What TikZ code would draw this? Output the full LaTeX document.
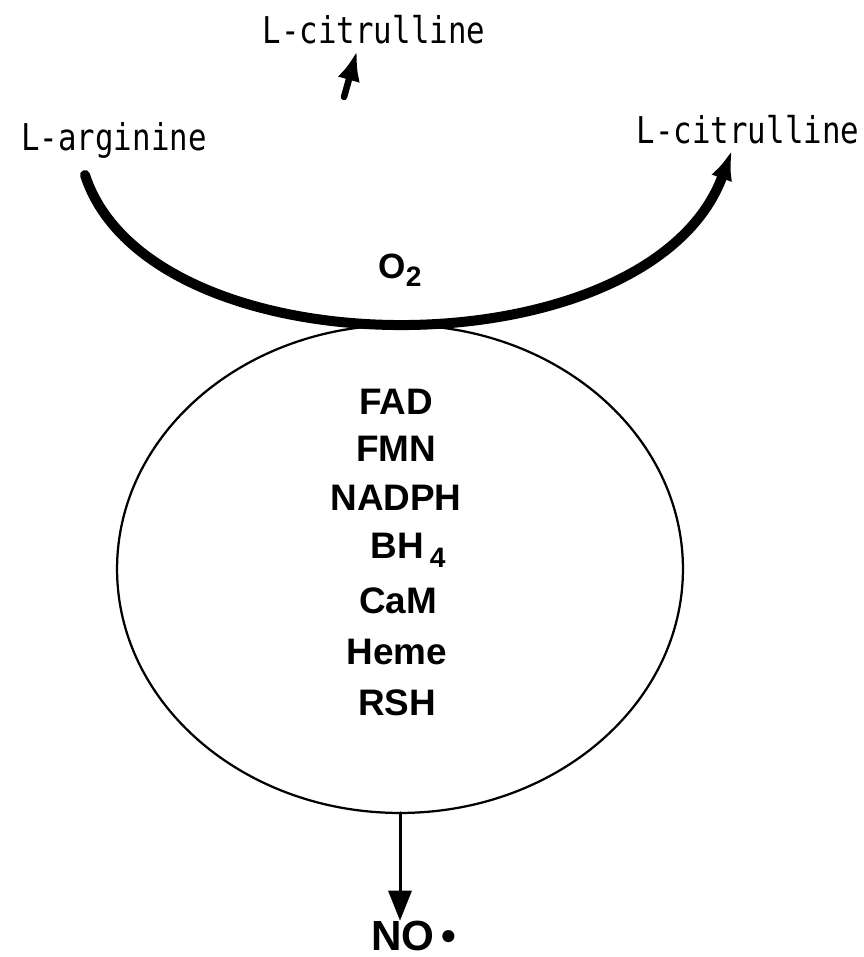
\documentclass[tikz,border=0pt]{standalone}
\usepackage{fontspec}
\setmainfont{Liberation Sans}
\newfontfamily\plotfont{DejaVu Sans Mono}
\usetikzlibrary{arrows.meta,shapes.geometric}
\newcommand{\monolabel}[1]{\scalebox{1}[1.2]{\plotfont\fontsize{17.5}{20}\selectfont #1}}
\newcommand{\lowidx}[1]{\raisebox{-0.45ex}{\fontsize{16}{16}\selectfont #1}}

\begin{document}
\begin{tikzpicture}[x=0.02cm,y=-0.02cm,line cap=round,
  plotlbl/.style={inner sep=0pt},
  cofactor/.style={inner sep=0pt,font=\bfseries\fontsize{21}{24}\selectfont}]
\useasboundingbox (0,0) rectangle (863,957);
% substrate and products
\node[plotlbl] (citA) at (374,30) {\monolabel{L-citrulline}};
\node[plotlbl] (arg) at (114,140) {\monolabel{L-arginine}};
\node[plotlbl] (citB) at (748,130) {\monolabel{L-citrulline}};
% enzyme
\node[draw,ellipse,line width=0.045cm,inner sep=0pt,outer sep=0pt,
  minimum width=11.32cm,minimum height=9.76cm] (enz) at (400,569) {};
\node[cofactor,font=\bfseries\fontsize{20}{22}\selectfont] (oxy) at (400,270) {O\lowidx{2}};
\node[cofactor] (fad) at (396,402) {FAD};
\node[cofactor] (fmn) at (396,449) {FMN};
\node[cofactor] (nadph) at (396,498) {NADPH};
\node[cofactor] (bh) at (408,550) {BH\,\lowidx{4}};
\node[cofactor] (cam) at (398,601) {CaM};
\node[cofactor] (heme) at (397,652) {Heme};
\node[cofactor] (rsh) at (397,703) {RSH};
\node[inner sep=0pt,font=\bfseries\fontsize{24}{26}\selectfont] (no) at (414,936) {NO\,•};
% arc ends
\coordinate (argtail) at (85,175);
\coordinate (cittip) at (732,150);
\coordinate (spur) at (344,97);
\draw[line width=0.2cm,-{Latex[length=0.6cm,width=0.44cm]}]
  (argtail) .. controls (150,375) and (650,375) .. (cittip);
\draw[line width=0.13cm,-{Latex[length=0.6cm,width=0.46cm]}]
  (spur) -- ([xshift=-0.34cm,yshift=-0.12cm]citA.south);
\draw[line width=0.06cm,-{Triangle[length=0.6cm,width=0.46cm]}]
  (enz.south) -- (enz.south |- no.north);
\end{tikzpicture}
\end{document}
